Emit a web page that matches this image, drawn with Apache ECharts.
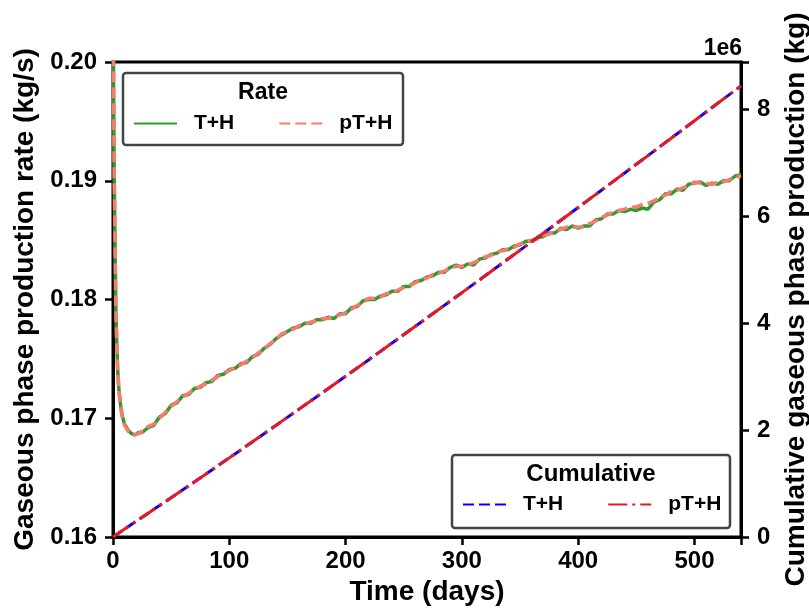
<!DOCTYPE html>
<html>
<head>
<meta charset="utf-8">
<script src="https://cdn.jsdelivr.net/npm/echarts@6/dist/echarts.min.js"></script>
<style>html,body{margin:0;padding:0;background:#fff}#c{width:809px;height:610px}</style>
</head>
<body>
<div id="c"></div>
<script>
// Time axis for rate curves (days)
const rateDays = [0,0.5,1,1.7,2.5,3.2,4,5,6.5,8,10,13,16,19,22,25,
30,35,40,45,50,55,60,65,70,75,80,85,90,95,100,105,110,115,120,125,130,135,140,145,150,155,160,165,170,175,180,185,190,195,
200,205,210,215,220,225,230,235,240,245,250,255,260,265,270,275,280,285,290,295,300,305,310,315,320,325,330,335,340,345,
350,355,360,365,370,375,380,385,390,395,400,405,410,415,420,425,430,435,440,445,450,455,460,465,470,475,480,485,490,495,
500,505,510,515,520,525,530,535,540];
// Gaseous phase production rate (kg/s), T+H
const rateTH = [0.210,0.198,0.191,0.185,0.179,0.1765,0.1741,0.1725,0.1711,0.1702,0.1695,0.1690,0.1687,0.1686,0.1688,0.1688,
.1692,.1694,.1701,.1704,.1711,.1713,.1719,.1720,.1725,.1726,.1730,.1731,.1736,.1737,.1741,.1742,.1746,.1747,.1752,.1754,.1759,.1762,.1767,.1770,.1773,.1776,.1777,.1780,.1780,.1783,.1783,.1785,.1784,.1788,
.1788,.1793,.1794,.1799,.1800,.1800,.1803,.1804,.1807,.1807,.1811,.1811,.1815,.1816,.1819,.1820,.1823,.1823,.1827,.1829,.1827,.1830,.1829,.1834,.1835,.1838,.1839,.1842,.1842,.1845,
.1846,.1849,.1849,.1852,.1853,.1856,.1856,.1860,.1859,.1862,.1860,.1862,.1862,.1867,.1868,.1872,.1872,.1875,.1874,.1876,.1875,.1877,.1876,.1882,.1884,.1889,.1889,.1893,.1892,.1897,
.1898,.1899,.1896,.1898,.1897,.1900,.1900,.1904,.1905];
// Gaseous phase production rate (kg/s), pT+H
const ratePTH = [0.210,0.198,0.191,0.185,0.179,0.1764,0.1740,0.1724,0.1710,0.1701,0.1694,0.1689,0.1686,0.1686,0.1687,0.1689,
.1693,.1695,.1700,.1705,.1710,.1714,.1718,.1721,.1724,.1727,.1729,.1732,.1735,.1738,.1740,.1743,.1745,.1748,.1751,.1755,.1758,.1763,.1766,.1771,.1773,.1775,.1778,.1779,.1781,.1782,.1784,.1784,.1786,.1787,
.1789,.1792,.1795,.1798,.1801,.1801,.1802,.1805,.1806,.1808,.1810,.1812,.1814,.1817,.1818,.1821,.1822,.1824,.1826,.1828,.1828,.1829,.1831,.1833,.1836,.1837,.1840,.1841,.1843,.1844,
.1847,.1848,.1850,.1851,.1854,.1855,.1857,.1859,.1861,.1861,.1861,.1861,.1864,.1866,.1869,.1871,.1874,.1875,.1876,.1878,.1878,.1880,.1881,.1883,.1886,.1888,.1891,.1892,.1894,.1896,
.1899,.1898,.1898,.1897,.1899,.1899,.1901,.1903,.1904];
// Cumulative gaseous phase production (kg)
const cumDays = [0,20,40,60,80,100,120,140,160,180,200,220,240,260,280,300,320,340,360,380,400,420,440,460,480,500,520,540];
const cumTH  = [0,0.296e6,0.588e6,0.883e6,1.181e6,1.481e6,1.783e6,2.087e6,2.393e6,2.700e6,3.009e6,3.319e6,3.631e6,3.944e6,4.258e6,4.573e6,4.890e6,5.208e6,5.527e6,5.847e6,6.168e6,6.490e6,6.814e6,7.138e6,7.464e6,7.791e6,8.119e6,8.440e6];
const cumPTH = [0,0.296e6,0.588e6,0.883e6,1.181e6,1.481e6,1.783e6,2.087e6,2.393e6,2.700e6,3.009e6,3.319e6,3.631e6,3.944e6,4.258e6,4.573e6,4.890e6,5.208e6,5.527e6,5.847e6,6.168e6,6.490e6,6.814e6,7.138e6,7.464e6,7.791e6,8.119e6,8.440e6];
const xTicks = [0,100,200,300,400,500];
const leftTicks = [0.16,0.17,0.18,0.19,0.20];
const rightTicks = [0,2,4,6,8];

const pair = (xs, ys) => xs.map((x, i) => [x, ys[i]]);
const FONT = 'Liberation Sans, Arial, sans-serif';

const chart = echarts.init(document.getElementById('c'), null, {renderer: 'canvas'});
const axisLabelStyle = {fontFamily: FONT, fontWeight: 'bold', fontSize: 24, color: '#000'};
const nameStyle = {fontFamily: FONT, fontWeight: 'bold', fontSize: 28, color: '#000'};
function legendOpt(names, prefix, left, top) {
  return {
    data: names.map(n => ({name: n})),
    formatter: n => n.replace(prefix, ''),
    left: left, top: top,
    padding: 0, itemWidth: 43, itemHeight: 14, itemGap: 44,
    itemStyle: {opacity: 0},
    textStyle: {fontFamily: FONT, fontWeight: 'bold', fontSize: 21, color: '#000', padding: [0, 0, 0, 12]},
    z: 20
  };
}

chart.setOption({
  animation: false,
  backgroundColor: '#fff',
  grid: {left: 113, right: 68, top: 62, bottom: 73, show: true, borderColor: '#000', borderWidth: 3,
         containLabel: false, outerBoundsMode: 'none'},
  xAxis: {
    type: 'value', min: 0, max: 540, interval: 100,
    name: 'Time (days)', nameLocation: 'middle', nameGap: 40, nameTextStyle: nameStyle,
    axisLine: {show: true, lineStyle: {color: '#000', width: 3}},
    axisTick: {show: true, length: 8, lineStyle: {color: '#000', width: 2.5}},
    axisLabel: Object.assign({margin: 12, formatter: v => xTicks.includes(v) ? String(v) : ''}, axisLabelStyle),
    splitLine: {show: false}
  },
  yAxis: [{
    type: 'value', min: 0.16, max: 0.20, interval: 0.01, position: 'left',
    name: 'Gaseous phase production rate (kg/s)', nameLocation: 'middle', nameGap: 71, nameTextStyle: nameStyle,
    axisLine: {show: true, lineStyle: {color: '#000', width: 3}},
    axisTick: {show: true, length: 8, lineStyle: {color: '#000', width: 2.5}},
    axisLabel: Object.assign({margin: 16, formatter: v => v.toFixed(2)}, axisLabelStyle),
    splitLine: {show: false}
  }, {
    type: 'value', min: 0, max: 8.89e6, interval: 2e6, position: 'right',
    name: 'Cumulative gaseous phase production (kg)', nameLocation: 'middle', nameGap: 41, nameTextStyle: nameStyle,
    nameRotate: 90,
    axisLine: {show: true, lineStyle: {color: '#000', width: 3}},
    axisTick: {show: true, length: 8, lineStyle: {color: '#000', width: 2.5}},
    axisLabel: Object.assign({margin: 16, formatter: v => { const t = Math.round(v / 1e6); return rightTicks.includes(t) ? String(t) : ''; }}, axisLabelStyle),
    splitLine: {show: false}
  }],
  legend: [
    legendOpt(['Rate T+H', 'Rate pT+H'], 'Rate ', 133, 113),
    legendOpt(['Cum T+H', 'Cum pT+H'], 'Cum ', 462, 494)
  ],
  graphic: [
    {type: 'rect', z: 10, shape: {x: 123, y: 73, width: 280, height: 72, r: 3},
     style: {fill: 'rgba(255,255,255,0.85)', stroke: '#444', lineWidth: 2.5}},
    {type: 'text', z: 11, x: 263, y: 93, style: {text: 'Rate', fill: '#000', font: 'bold 23px ' + FONT, textAlign: 'center', textVerticalAlign: 'middle'}},
    {type: 'rect', z: 10, shape: {x: 452, y: 455, width: 278, height: 73, r: 3},
     style: {fill: 'rgba(255,255,255,0.85)', stroke: '#444', lineWidth: 2.5}},
    {type: 'text', z: 11, x: 591, y: 474, style: {text: 'Cumulative', fill: '#000', font: 'bold 24px ' + FONT, textAlign: 'center', textVerticalAlign: 'middle'}},
    {type: 'text', z: 11, x: 742, y: 49, style: {text: '1e6', fill: '#000', font: 'bold 23px ' + FONT, textAlign: 'right', textVerticalAlign: 'middle'}}
  ],
  series: [{
    name: 'Rate T+H', type: 'line', yAxisIndex: 0, data: pair(rateDays, rateTH), showSymbol: false, symbol: 'none',
    lineStyle: {color: '#2f9a2f', width: 3.5}, itemStyle: {color: '#2f9a2f'}, clip: true, z: 2
  }, {
    name: 'Rate pT+H', type: 'line', yAxisIndex: 0, data: pair(rateDays, ratePTH), showSymbol: false, symbol: 'none',
    lineStyle: {color: '#fa7a6e', width: 3.5, type: [11, 5]}, itemStyle: {color: '#fa7a6e'}, clip: true, z: 3
  }, {
    name: 'Cum T+H', type: 'line', yAxisIndex: 1, data: pair(cumDays, cumTH), showSymbol: false, symbol: 'none',
    lineStyle: {color: '#0000ff', width: 3, type: [11, 5]}, itemStyle: {color: '#0000ff'}, clip: true, z: 4
  }, {
    name: 'Cum pT+H', type: 'line', yAxisIndex: 1, data: pair(cumDays, cumPTH), showSymbol: false, symbol: 'none',
    lineStyle: {color: '#e8191f', width: 3, type: [19, 5, 3, 5]}, itemStyle: {color: '#e8191f'}, clip: true, z: 5
  }]
});
</script>
</body>
</html>
